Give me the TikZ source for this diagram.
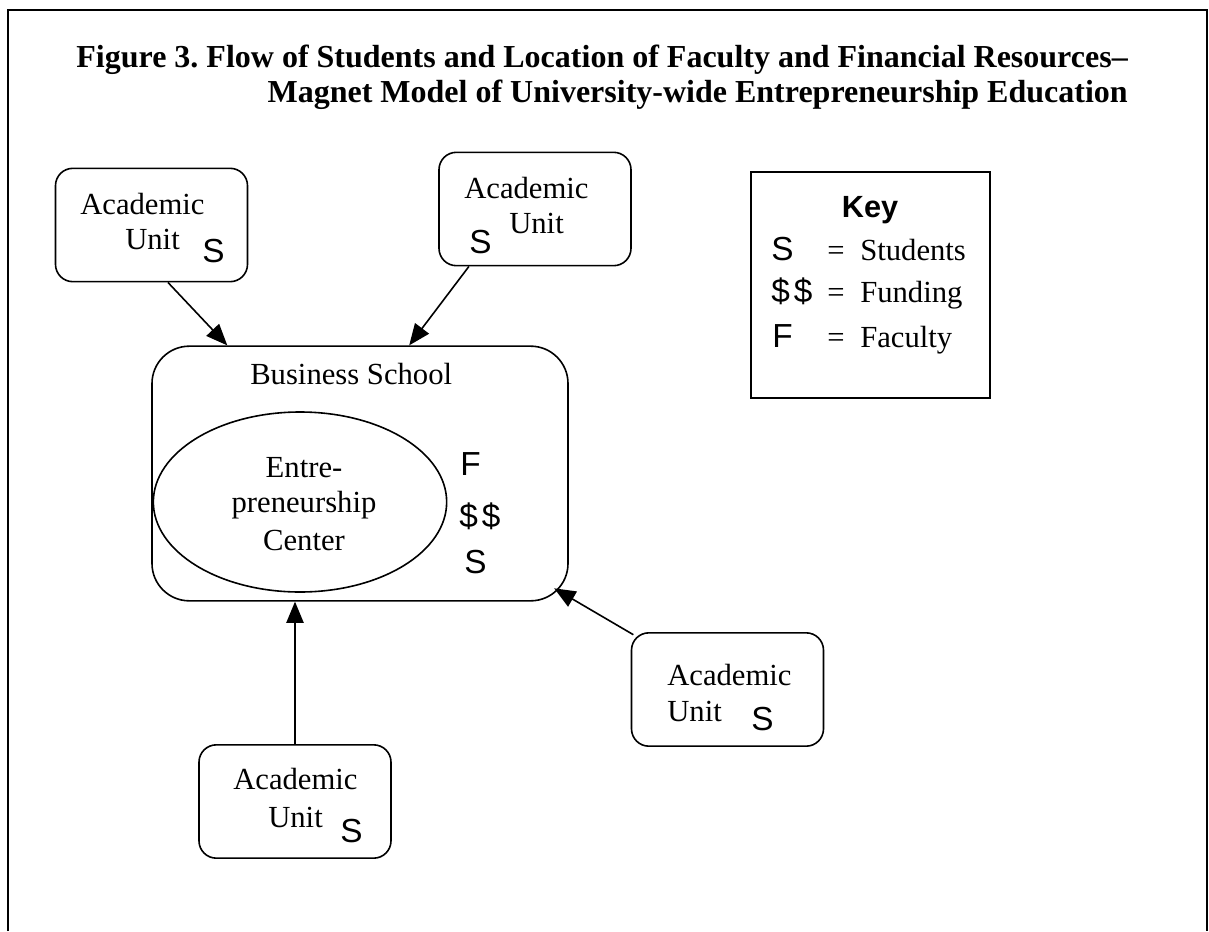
\documentclass[tikz,border=0pt]{standalone}
\usepackage{fontspec}
\setmainfont{Liberation Serif}
\newfontfamily\keyfont{Liberation Sans}
\usetikzlibrary{arrows.meta,shapes.geometric}
\frenchspacing
\begin{document}
\begin{tikzpicture}[x=0.75pt,y=-0.75pt,
	unitbox/.style={draw,line width=1.2pt,rounded corners=13pt,minimum width=144pt,minimum height=85pt,inner sep=0pt},
	txt/.style={inner sep=0pt,anchor=base west,font=\fontsize{23}{26}\selectfont},
	sym/.style={inner sep=0pt,anchor=base west,font=\keyfont\fontsize{25}{28}\selectfont},
	flow/.style={line width=1.2pt,-{Triangle[length=16pt,width=13pt]}}]
	\useasboundingbox (0,0) rectangle (1209,931);
	\draw[line width=1.5pt] (8,931) -- (8,10) -- (1207,10) -- (1207,931);
	% title
	\node[inner sep=0pt,anchor=base east,font=\fontsize{24}{26}\selectfont\bfseries] at (1128,68) (title1) {Figure 3. Flow of Students and Location of Faculty and Financial Resources--};
	\node[inner sep=0pt,anchor=base east,font=\fontsize{24}{26}\selectfont\bfseries] at (1128,102) (title2) {Magnet Model of University-wide Entrepreneurship Education};
	% boxes
	\node[unitbox] at (151.5,225) (unitTL) {};
	\node[unitbox] at (535,209) (unitTM) {};
	\node[unitbox] at (727.5,689.5) (unitBR) {};
	\node[unitbox] at (295,801.5) (unitB) {};
	\node[draw,line width=1.2pt,rounded corners=28pt,minimum width=312pt,minimum height=191pt] at (360,473.5) (bschool) {};
	\node[draw,ellipse,line width=1.2pt,minimum width=220pt,minimum height=135pt,inner sep=0pt] at (300,502) (center) {};
	\node[draw,line width=1.2pt,minimum width=179pt,minimum height=169.5pt] at (870.5,285) (key) {};
	% box texts
	\node[txt] at (80,214) (tlA) {Academic};
	\node[txt] at (125,249) (tlU) {Unit};
	\node[sym] at (202,262) (tlS) {S};
	\node[txt] at (464,198) (tmA) {Academic};
	\node[txt] at (509,233) (tmU) {Unit};
	\node[sym] at (469,253) (tmS) {S};
	\node[txt] at (667,685) (brA) {Academic};
	\node[txt] at (667,721) (brU) {Unit};
	\node[sym] at (751,730) (brS) {S};
	\node[txt] at (233,789) (bA) {Academic};
	\node[txt] at (268,827) (bU) {Unit};
	\node[sym] at (340,842) (bS) {S};
	\node[txt] at (250,384) (bsname) {Business School};
	\node[txt,anchor=base] at (304,477) (ent1) {Entre-};
	\node[txt,anchor=base] at (304,512) (ent2) {preneurship};
	\node[txt,anchor=base] at (304,550) (ent3) {Center};
	\node[sym] at (460,475) (bsF) {F};
	\node[sym] at (459,527) (bsD) {\$\kern3pt\$};
	\node[sym] at (464,573) (bsS) {S};
	% key
	\node[sym,anchor=base,font=\keyfont\bfseries\fontsize{23}{26}\selectfont] at (870,217) (keyT) {Key};
	\node[sym] at (771,260) (kS) {S};
	\node[txt] at (827,260) (kSe) {=};
	\node[txt] at (860,260) (kSt) {Students};
	\node[sym] at (771,302) (kD) {\$\kern3pt\$};
	\node[txt] at (827,302) (kDe) {=};
	\node[txt] at (860,302) (kDt) {Funding};
	\node[sym] at (772,347) (kF) {F};
	\node[txt] at (827,347) (kFe) {=};
	\node[txt] at (860,347) (kFt) {Faculty};
	% flows
	\draw[flow] (unitTL.-74) -- (bschool.136);
	\draw[flow] (unitTM.221) -- (bschool.69);
	\draw[flow] (unitB.north) -- (unitB.north |- bschool.south);
	\draw[flow] ([xshift=2pt,yshift=-2pt]unitBR.north west) -- ([xshift=-11pt,yshift=10pt]bschool.south east);
\end{tikzpicture}
\end{document}
